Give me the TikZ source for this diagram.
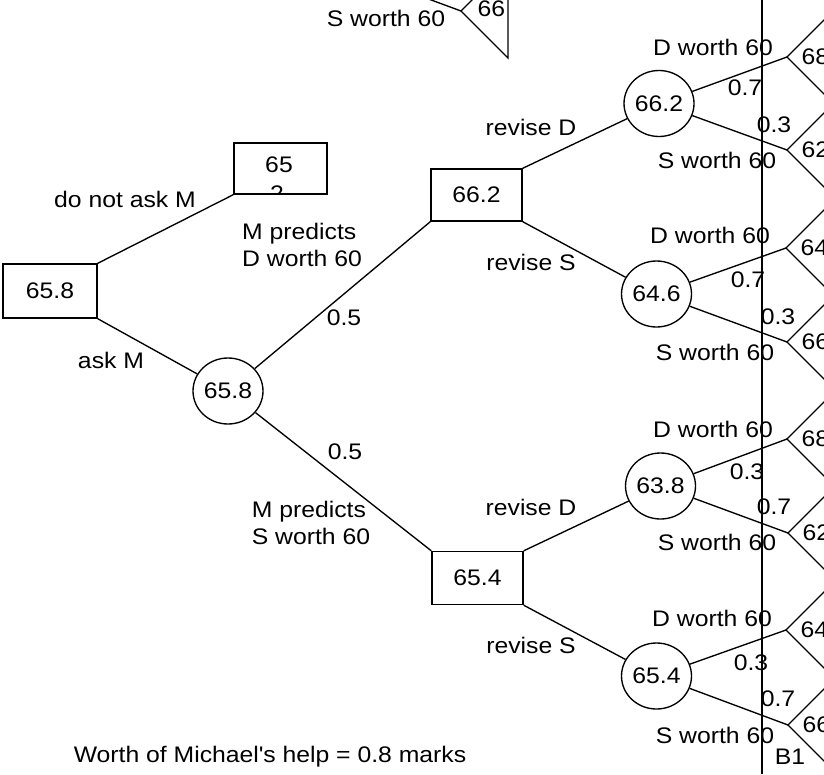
\documentclass[tikz,border=0pt]{standalone}
\usepackage{fontspec}
\setmainfont{Liberation Sans}[FakeStretch=1.1]
\usetikzlibrary{shapes.geometric}
\begin{document}
\begin{tikzpicture}[x=1pt,y=-1pt, line width=1.35pt,
  every node/.style={font=\fontsize{22.5}{27}\selectfont, inner sep=0pt},
  dec/.style={draw, rectangle, minimum width=92pt, minimum height=53pt},
  chance/.style={draw, ellipse, minimum width=70pt, minimum height=66pt},
  term/.style={anchor=west},
  divider/.style={line width=2pt},
  lbl/.style={align=left}]
\useasboundingbox (0,0) rectangle (824,774);
\clip (0,0) rectangle (824,774);

% decision and chance nodes
\node[dec, minimum width=94pt, minimum height=54pt] (root) at (50,291) {65.8};
\node[dec, minimum width=93pt, minimum height=51pt] (nask) at (280.5,168.5) {};
\begin{scope}
  \clip (nask.south west) rectangle (nask.north east);
  \node (nask65) at (279,165) {65};
  \node (nask2) at (277,194) {2};
\end{scope}
\node[chance] (c1) at (228,391) {65.8};
\node[dec, minimum width=91pt, minimum height=52pt] (d1) at (476.5,195) {66.2};
\node[dec, minimum width=91pt, minimum height=53pt] (d2) at (477.5,578) {65.4};
\node[chance] (c2) at (659,103.5) {66.2};
\node[chance] (c3) at (656.5,294) {64.6};
\node[chance] (c4) at (660.5,486) {63.8};
\node[chance] (c5) at (656.5,676) {65.4};

% terminal vertices
\coordinate (t0) at (461,11);
\coordinate (t1) at (787,57);
\coordinate (t2) at (787,150);
\coordinate (t3) at (786,248);
\coordinate (t4) at (787,342);
\coordinate (t5) at (787,439);
\coordinate (t6) at (788,533);
\coordinate (t7) at (786,630);
\coordinate (t8) at (788,725);
\coordinate (ctop) at (331,-37);

\foreach \t in {t0,t1,t2,t3,t4,t5,t6,t7,t8}
  \draw (\t) -- ++(47,-47) -- ++(0,94) -- cycle;

% connectors
\draw (root.north east) -- (nask.south west);
\draw (root.south east) -- (c1);
\draw (c1) -- (d1.south west);
\draw (c1) -- (d2.north west);
\draw (d1.north east) -- (c2);
\draw (d1.south east) -- (c3);
\draw (d2.north east) -- (c4);
\draw (d2.south east) -- (c5);
\draw (c2) -- (t1);
\draw (c2) -- (t2);
\draw (c3) -- (t3);
\draw (c3) -- (t4);
\draw (c4) -- (t5);
\draw (c4) -- (t6);
\draw (c5) -- (t7);
\draw (c5) -- (t8);
\draw (ctop) -- (t0);

% terminal values
\node[term] (v0) at ([xshift=16pt,yshift=2pt]t0) {66};
\node[term] (v1) at ([xshift=14pt]t1) {68};
\node[term] (v2) at ([xshift=14pt]t2) {62};
\node[term] (v3) at ([xshift=14pt]t3) {64};
\node[term] (v4) at ([xshift=14pt]t4) {66};
\node[term] (v5) at ([xshift=14pt]t5) {68};
\node[term] (v6) at ([xshift=14pt]t6) {62};
\node[term] (v7) at ([xshift=14pt]t7) {64};
\node[term] (v8) at ([xshift=14pt]t8) {66};

% divider
\coordinate (vtop) at (762,0);
\coordinate (vbot) at (762,774);
\draw[divider] (vtop) -- (vbot);

% labels
\node (l0) at (386,18) {S worth 60};
\node (ldn) at (125,199) {do not ask M};
\node (lask) at (111,360) {ask M};
\node[lbl] (lmd) at (302,245) {M predicts\\D worth 60};
\node (p1) at (344,318) {0.5};
\node (p2) at (345,452) {0.5};
\node[lbl] (lms) at (311,523) {M predicts\\S worth 60};
\node (r1) at (531,127) {revise D};
\node (r2) at (531,262) {revise S};
\node (r3) at (531,507) {revise D};
\node (r4) at (531,645) {revise S};

\node (a1) at (713,47) {D worth 60};
\node (a2) at (745,88) {0.7};
\node (a3) at (774,125) {0.3};
\node (a4) at (717,160) {S worth 60};

\node (b1) at (710,235) {D worth 60};
\node (b2) at (748,280) {0.7};
\node (b3) at (778,317) {0.3};
\node (b4) at (715,352) {S worth 60};

\node (e1) at (713,429) {D worth 60};
\node (e2) at (747,472) {0.3};
\node (e3) at (774,507) {0.7};
\node (e4) at (717,542) {S worth 60};

\node (f1) at (712,618) {D worth 60};
\node (f2) at (751,663) {0.3};
\node (f3) at (778,699) {0.7};
\node (f4) at (715,735) {S worth 60};
\node (bone) at (790,757) {B1};

\node (worth) at (270,757) {Worth of Michael\textquotesingle s help = 0.8 marks};
\end{tikzpicture}
\end{document}
